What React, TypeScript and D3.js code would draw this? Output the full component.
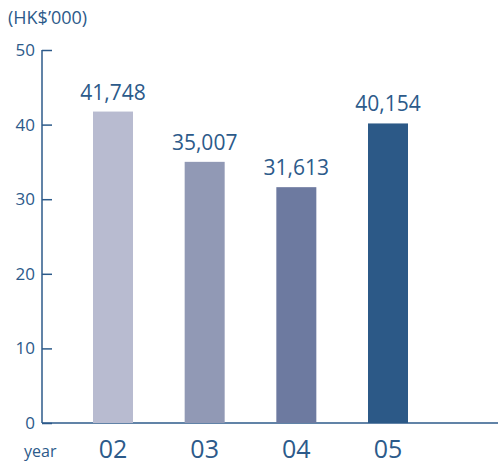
import React, { useEffect, useRef } from 'react';
import * as d3 from 'd3';

const years = ['02', '03', '04', '05'];
const values = [41748, 35007, 31613, 40154];
const barColors = ['#b8bbd0', '#9199b5', '#6d7aa0', '#2c5987'];
const yTicks = [0, 10, 20, 30, 40, 50];

const textColor = '#2c5a8a';
const font = '"Open Sans", "DejaVu Sans", sans-serif';

const App: React.FC = () => {
  const chartRef = useRef<SVGSVGElement | null>(null);

  useEffect(() => {
    const width = 498;
    const height = 466;
    const axisX = 42;

    const svg = d3.select(chartRef.current)
      .attr('width', width)
      .attr('height', height)
      .style('font-family', font);

    svg.selectAll('*').remove();

    const y = d3.scaleLinear()
      .domain([0, 50])
      .range([423, 50]);

    const x = d3.scalePoint<string>()
      .domain(years)
      .range([113, 388]);

    const barW = 40;

    // y axis
    const yAxis = svg.append('g')
      .attr('transform', `translate(${axisX},0)`)
      .call(d3.axisRight(y).tickValues(yTicks).tickSize(10).tickFormat(() => ''));
    yAxis.select('.domain').remove();
    yAxis.selectAll('line').attr('stroke', textColor).attr('stroke-width', 1.5);

    svg.append('line')
      .attr('x1', axisX).attr('x2', axisX)
      .attr('y1', y(50)).attr('y2', y(0))
      .attr('stroke', textColor).attr('stroke-width', 1.5);

    svg.append('line')
      .attr('x1', axisX).attr('x2', width)
      .attr('y1', y(0)).attr('y2', y(0))
      .attr('stroke', textColor).attr('stroke-width', 1.5);

    svg.append('g')
      .selectAll('text')
      .data(yTicks)
      .join('text')
      .attr('x', 35)
      .attr('y', d => y(d) + 6)
      .attr('text-anchor', 'end')
      .attr('font-size', 17)
      .attr('fill', textColor)
      .text(d => d);

    // bars
    svg.append('g')
      .selectAll('rect')
      .data(values)
      .join('rect')
      .attr('x', (d, i) => (x(years[i]) as number) - barW / 2)
      .attr('y', d => y(d / 1000))
      .attr('width', barW)
      .attr('height', d => y(0) - y(d / 1000))
      .attr('fill', (d, i) => barColors[i]);

    // value labels
    svg.append('g')
      .selectAll('text')
      .data(values)
      .join('text')
      .attr('x', (d, i) => x(years[i]) as number)
      .attr('y', d => y(d / 1000) - 12)
      .attr('text-anchor', 'middle')
      .attr('font-size', 21)
      .attr('fill', textColor)
      .text(d => d3.format(',')(d));

    // year labels
    svg.append('g')
      .selectAll('text')
      .data(years)
      .join('text')
      .attr('x', d => x(d) as number)
      .attr('y', 458)
      .attr('text-anchor', 'middle')
      .attr('font-size', 25)
      .attr('fill', textColor)
      .text(d => d);

    svg.append('text')
      .attr('x', 24)
      .attr('y', 457)
      .attr('font-size', 16)
      .attr('fill', textColor)
      .text('year');

    svg.append('text')
      .attr('x', 8)
      .attr('y', 24)
      .attr('font-size', 18)
      .attr('fill', textColor)
      .text('(HK$\u2019000)');
  }, []);

  return (
    <svg ref={chartRef} style={{ position: 'absolute', left: 0, top: 0 }}></svg>
  );
};

export default App;
